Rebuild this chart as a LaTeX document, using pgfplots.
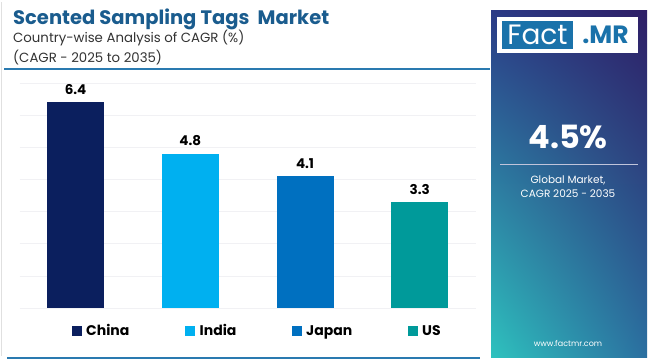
\documentclass[border=0pt]{standalone}
\usepackage{fontspec}
\setmainfont{Poppins}
\usepackage{pgfplots}
\pgfplotsset{compat=1.18}
\usetikzlibrary{shadings}
\definecolor{cChina}{HTML}{0B1F5E}
\definecolor{cIndia}{HTML}{00B0F0}
\definecolor{cJapan}{HTML}{0070C0}
\definecolor{cUS}{HTML}{009A9A}
\definecolor{titleblue}{HTML}{1A5C8E}
\definecolor{lineblue}{HTML}{2A7AB0}
\definecolor{gridc}{HTML}{F1F1F4}
\definecolor{pUL}{HTML}{2B3A86}
\definecolor{pUR}{HTML}{2E1E66}
\definecolor{pLL}{HTML}{2EC2BE}
\definecolor{pLR}{HTML}{2B6FA0}
\definecolor{logoblue}{HTML}{1A72AA}
\begin{document}
\begin{tikzpicture}[x=1pt,y=1pt]
\useasboundingbox (0,0) rectangle (650,360);
\fill[white] (0,0) rectangle (650,360);
\draw[black!12, line width=1] (1.5,4) -- (1.5,358);
% title block
\node[anchor=base west, inner sep=0, text=titleblue, font=\fontsize{19.5}{19.5}\selectfont\bfseries] at (13,336) {Scented Sampling Tags\ \ Market};
\node[anchor=base west, inner sep=0, text=black!80, font=\fontsize{13.3}{13.3}\selectfont] at (13,317.7) {Country-wise Analysis of CAGR (\%)};
\node[anchor=base west, inner sep=0, text=black!80, font=\fontsize{13.3}{13.3}\selectfont] at (13,297.7) {(CAGR - 2025 to 2035)};
\draw[lineblue, line width=1.3] (4,291) -- (490,291);
\draw[lineblue, line width=2.2] (7,2) -- (480,2);
% right panel
\path[shade, upper left=pUL, upper right=pUR, lower left=pLL, lower right=pLR] (491,3) rectangle (647,350);
\fill[white] (497,343) rectangle (638,307);
\fill[logoblue] (502,339) rectangle (573,311);
\node[text=white, font=\fontsize{28}{28}\selectfont] at (537.5,325) {Fact};
\node[text=logoblue, font=\fontsize{25}{25}\selectfont\bfseries] at (605.5,325) {.MR};
\node[text=white, font=\fontsize{32}{32}\selectfont\bfseries] at (568,223) {4.5\%};
\draw[white!70!pUL, line width=1] (500,196) -- (638,196);
\node[text=white, font=\fontsize{10.5}{10.5}\selectfont] at (568,180) {Global Market,};
\node[text=white, font=\fontsize{10.5}{10.5}\selectfont] at (568,166) {CAGR 2025 - 2035};
\node[text=white, font=\fontsize{8}{8}\selectfont] at (568,17) {www.factmr.com};
% chart
\begin{axis}[
  at={(20pt,52pt)}, anchor=south west,
  scale only axis, width=456pt, height=225pt,
  xmin=-0.484, xmax=3.49, ymin=0, ymax=7,
  ytick={0,...,7}, yticklabels={}, xtick=\empty,
  ymajorgrids,
  grid style={draw=gridc, line width=0.7},
  major grid style={draw=gridc, line width=0.7},
  axis line style={draw=none}, major tick length=0,
  clip=false,
  /pgf/number format/assume math mode=true,
  nodes near coords,
  every node near coord/.append style={font=\fontsize{13.5}{13.5}\selectfont\bfseries, text=black, yshift=4pt},
  nodes near coords style={/pgf/number format/.cd, fixed, fixed zerofill, precision=1, assume math mode=true},
]
\addplot[ybar, bar width=57pt, fill=cChina, draw=none] coordinates {(0,6.4)};
\addplot[ybar, bar width=57pt, fill=cIndia, draw=none] coordinates {(1,4.8)};
\addplot[ybar, bar width=57pt, fill=cJapan, draw=none] coordinates {(2,4.1)};
\addplot[ybar, bar width=57pt, fill=cUS, draw=none] coordinates {(3,3.3)};
\end{axis}
% legend
\fill[cChina] (72,24) rectangle (82,34);
\node[anchor=base west, inner sep=0, font=\fontsize{14}{14}\selectfont\bfseries] at (86,24.5) {China};
\fill[cIndia] (185,24) rectangle (195,34);
\node[anchor=base west, inner sep=0, font=\fontsize{14}{14}\selectfont\bfseries] at (199.5,24.5) {India};
\fill[cJapan] (292,24) rectangle (302,34);
\node[anchor=base west, inner sep=0, font=\fontsize{14}{14}\selectfont\bfseries] at (306,24.5) {Japan};
\fill[cUS] (408,24) rectangle (418,34);
\node[anchor=base west, inner sep=0, font=\fontsize{14}{14}\selectfont\bfseries] at (422,24.5) {US};
\end{tikzpicture}
\end{document}
